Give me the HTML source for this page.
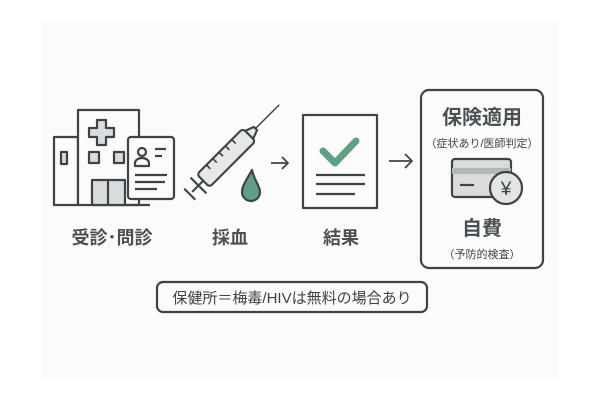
<!DOCTYPE html>
<html><head><meta charset="utf-8"><style>
html,body{margin:0;padding:0;background:#fff;}
svg{display:block;}
text{font-family:"Liberation Sans","Noto Sans CJK JP",sans-serif;fill:#3d4347;}
.b{font-weight:bold;fill:#4a5054;}
</style></head><body>
<svg width="600" height="400" viewBox="0 0 600 400" xmlns="http://www.w3.org/2000/svg">
<rect x="0" y="0" width="600" height="400" fill="#ffffff"/>
<rect x="42" y="20" width="516" height="360" fill="#fbfbfa"/>
<g stroke="#3d4347" stroke-width="2.2" fill="none" stroke-linejoin="round">
 <!-- hospital -->
 <rect x="54" y="137" width="24" height="68" fill="#fbfbfa"/>
 <rect x="78" y="110" width="61" height="95" fill="#fbfbfa"/>
 <path d="M97 120h9v8h8v9h-8v8h-9v-8h-8v-9h8z" fill="#d9dbdc"/>
 <rect x="61" y="152" width="6" height="12" fill="#d9dbdc"/>
 <rect x="89" y="152" width="10" height="11" fill="#d9dbdc"/>
 <rect x="114" y="152" width="10" height="11" fill="#d9dbdc"/>
 <rect x="92" y="180" width="33" height="25" fill="#d9dbdc"/>
 <line x1="108" y1="180" x2="108" y2="205"/>
 <line x1="125" y1="205" x2="150" y2="205"/>
 <rect x="128" y="137" width="46" height="62" rx="3" fill="#fbfbfa"/>
 <circle cx="142" cy="152" r="4"/>
 <path d="M135 166v-3a7 5 0 0 1 14 0v3z"/>
 <line x1="155" y1="149" x2="166" y2="149"/>
 <line x1="155" y1="156" x2="162" y2="156"/>
 <line x1="135" y1="175" x2="167" y2="175"/>
 <line x1="135" y1="182" x2="165" y2="182"/>
 <line x1="135" y1="189" x2="157" y2="189"/>
 <!-- syringe -->
 <g transform="translate(227,157) rotate(-45) scale(1.12)">
  <rect x="-30" y="-8" width="58" height="16" rx="3" fill="#e6e7e7" stroke-width="1.9"/>
  <path d="M28 -5 l8 3 v4 l-8 3z" fill="#e6e7e7" stroke-width="1.9"/>
  <line x1="36" y1="0" x2="66" y2="0" stroke-width="1.3"/>
  <line x1="-30" y1="0" x2="-44" y2="0" stroke-width="1.9"/>
  <line x1="-36" y1="-10" x2="-36" y2="10" stroke-width="1.9"/>
  <line x1="-47" y1="-7" x2="-47" y2="7" stroke-width="1.9"/>
  <g stroke-width="1.5">
  <line x1="-18" y1="-8" x2="-18" y2="-3"/>
  <line x1="-10" y1="-8" x2="-10" y2="-3"/>
  <line x1="-2" y1="-8" x2="-2" y2="-3"/>
  <line x1="6" y1="-8" x2="6" y2="-3"/>
  <line x1="14" y1="-8" x2="14" y2="-3"/>
  </g>
 </g>
 <path d="M252 170 C247 179 242 186 242 192 a9 9 0 0 0 18 0 c0-6-6-12-8-22z" fill="#5e9f86"/>
 <!-- arrow1 -->
 <path d="M271 163h17M282 157l6 6-6 6" stroke-width="1.8"/>
 <!-- doc -->
 <rect x="303" y="115" width="74" height="93" fill="#fbfbfa"/>
 <path d="M323 151l12 12 21-22" stroke="#5e9f86" stroke-width="7" stroke-linecap="round"/>
 <line x1="316" y1="175" x2="365" y2="175"/>
 <line x1="316" y1="184" x2="365" y2="184"/>
 <line x1="316" y1="194" x2="355" y2="194"/>
 <!-- arrow2 -->
 <path d="M389 161h23M405 154l7 7-7 7" stroke-width="1.8"/>
 <!-- box -->
 <rect x="421" y="90" width="122" height="178" rx="8" fill="#fbfbfa"/>
 <rect x="452" y="159" width="59" height="38" rx="3" fill="#d9dbdc"/>
 <line x1="452" y1="171" x2="511" y2="171" stroke-width="6" stroke="#b4b7b8"/>
 <line x1="460" y1="185" x2="474" y2="185"/>
 <circle cx="506" cy="188" r="16" fill="#e3e4e4"/>
 <!-- pill -->
 <rect x="157" y="282" width="270" height="30" rx="6" fill="#fbfbfa"/>
</g>
<text x="506" y="195" font-size="19" text-anchor="middle">¥</text>
<text class="b" x="112" y="244" font-size="18" text-anchor="middle">受診･問診</text>
<text class="b" x="230" y="244" font-size="18" text-anchor="middle">採血</text>
<text class="b" x="341" y="244" font-size="18" text-anchor="middle">結果</text>
<text class="b" x="482" y="124" font-size="20" text-anchor="middle">保険適用</text>
<text x="482" y="147" font-size="11" text-anchor="middle">（症状あり/医師判定）</text>
<text class="b" x="482" y="235" font-size="20" text-anchor="middle">自費</text>
<text x="482" y="258" font-size="11" text-anchor="middle">（予防的検査）</text>
<text x="292" y="303" font-size="15" text-anchor="middle">保健所＝梅毒/HIVは無料の場合あり</text>
</svg>
</body></html>
